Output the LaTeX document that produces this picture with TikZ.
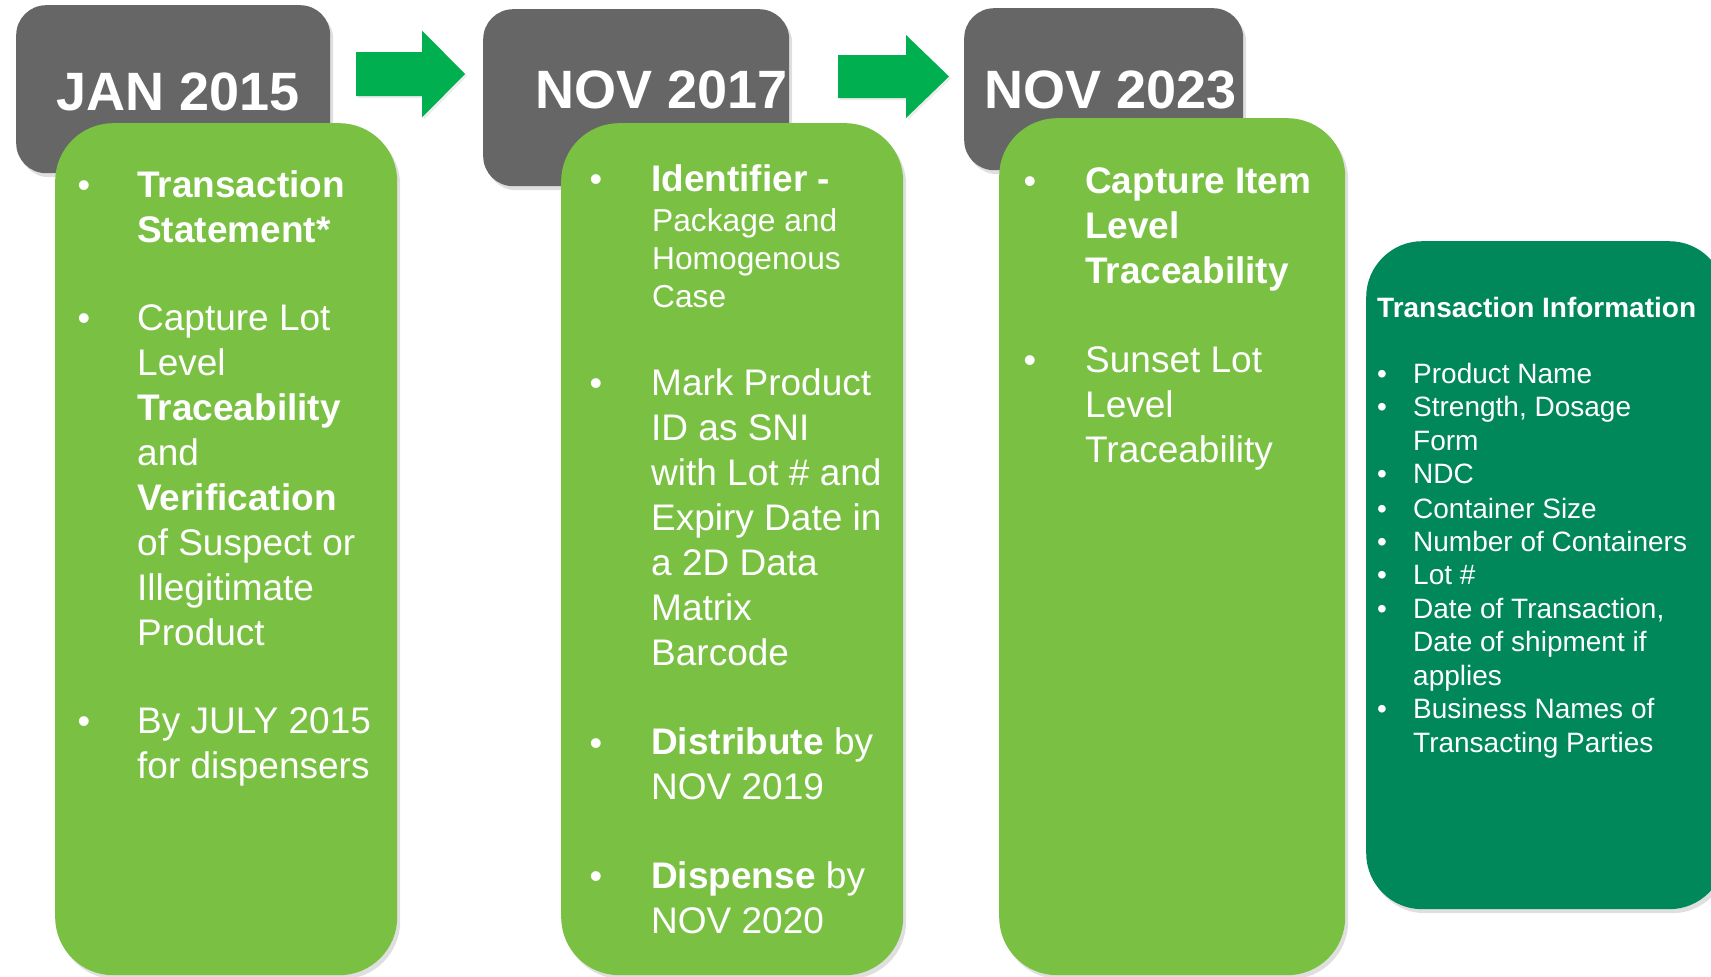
\documentclass[tikz,border=0pt]{standalone}
\usepackage{fontspec}
\setmainfont{Liberation Sans}
\usetikzlibrary{shadows}
\definecolor{dategray}{HTML}{666666}
\definecolor{stagegreen}{HTML}{7AC143}
\definecolor{arrowgreen}{HTML}{00B050}
\definecolor{infogreen}{HTML}{00885A}

\begin{document}
\begin{tikzpicture}[
	x=1pt, y=-1pt,
	datebox/.style={
		fill=dategray, rounded corners=30pt, anchor=north west, inner sep=0pt,
		drop shadow={opacity=0.25, shadow xshift=3pt, shadow yshift=-4pt}
	},
	stagebox/.style={
		fill=stagegreen, rounded corners=58pt, anchor=north west, inner sep=0pt,
		drop shadow={opacity=0.25, shadow xshift=3pt, shadow yshift=-4pt}
	},
	infobox/.style={
		fill=infogreen, rounded corners=56pt, anchor=north west, inner sep=0pt,
		drop shadow={opacity=0.25, shadow xshift=3pt, shadow yshift=-4pt}
	},
	blockarrow/.style={
		fill=arrowgreen,
		drop shadow={opacity=0.15, shadow xshift=2pt, shadow yshift=-2pt}
	},
	datetext/.style={anchor=base west, inner sep=0pt, text=white, font=\fontsize{54}{60}\selectfont\bfseries},
	% multi-line texts are placed by the baseline of their last line
	bodytext/.style={anchor=base west, inner sep=0pt, align=left, text=white, font=\fontsize{37}{45}\selectfont},
	subtext/.style={bodytext, font=\fontsize{31.7}{38}\selectfont},
	infotext/.style={bodytext, font=\fontsize{28}{33.5}\selectfont},
	bulletmark/.style={anchor=base, inner sep=0pt, text=white, font=\fontsize{36}{40}\selectfont},
	infobullet/.style={bulletmark, font=\fontsize{28}{33.5}\selectfont}
	]
	
	\path[use as bounding box, fill=white] (0,0) rectangle (1711,977);
	\clip (0,0) rectangle (1711,977);
	
	% ==========================================
	% DATE HEADERS
	% ==========================================
	
	\node[datebox, minimum width=314pt, minimum height=168pt] (jan15) at (16,5) {};
	\node[datebox, minimum width=306pt, minimum height=177pt] (nov17) at (483,9) {};
	\node[datebox, minimum width=279pt, minimum height=162pt] (nov23) at (964,8) {};
	
	\node[datetext] (jan15t) at (56,110) {JAN 2015};
	\node[datetext] (nov17t) at (535,108) {NOV 2017};
	\node[datetext] (nov23t) at (984,108) {NOV 2023};
	
	% Progress arrows between the dates
	\coordinate (arrA) at (356,52);
	\coordinate (arrB) at (838,55);
	\path[blockarrow] (arrA) -- ++(66,0) -- ++(0,-21.5) -- ++(43,43.5) -- ++(-43,43.5) -- ++(0,-21.5) -- ++(-66,0) -- cycle;
	\path[blockarrow] (arrB) -- ++(68,0) -- ++(0,-20) -- ++(43,41.5) -- ++(-43,41.5) -- ++(0,-20) -- ++(-68,0) -- cycle;
	
	% ==========================================
	% STAGE 1: JAN 2015
	% ==========================================
	
	\node[stagebox, minimum width=342pt, minimum height=852pt] (stage1) at (55,123) {};
	
	\node[bulletmark] (b11) at (84,197) {•};
	\node[bodytext] (s11) at (137,242) {\textbf{Transaction}\\\textbf{Statement*}};
	
	\node[bulletmark] (b12) at (84,330) {•};
	\node[bodytext] (s12) at (137,645) {Capture Lot\\Level\\\textbf{Traceability}\\and\\\textbf{Verification}\\of Suspect or\\Illegitimate\\Product};
	
	\node[bulletmark] (b13) at (84,733) {•};
	\node[bodytext] (s13) at (137,778) {By JULY 2015\\for dispensers};
	
	% ==========================================
	% STAGE 2: NOV 2017
	% ==========================================
	
	\node[stagebox, minimum width=342pt, minimum height=852pt] (stage2) at (561,123) {};
	
	\node[bulletmark] (b21) at (596,191) {•};
	\node[bodytext, font=\fontsize{37}{45}\selectfont\bfseries] (s21) at (651,191) {Identifier -};
	\node[subtext] (s21b) at (652,307) {Package and\\Homogenous\\Case};
	
	\node[bulletmark] (b22) at (596,395) {•};
	\node[bodytext] (s22) at (651,665) {Mark Product\\ID as SNI\\with Lot \# and\\Expiry Date in\\a 2D Data\\Matrix\\Barcode};
	
	\node[bulletmark] (b23) at (596,755) {•};
	\node[bodytext] (s23) at (651,799) {\textbf{Distribute} by\\NOV 2019};
	
	\node[bulletmark] (b24) at (596,888) {•};
	\node[bodytext] (s24) at (651,933) {\textbf{Dispense} by\\NOV 2020};
	
	% ==========================================
	% STAGE 3: NOV 2023
	% ==========================================
	
	\node[stagebox, minimum width=346pt, minimum height=857pt] (stage3) at (999,118) {};
	
	\node[bulletmark] (b31) at (1030,193) {•};
	\node[bodytext] (s31) at (1085,283) {\textbf{Capture Item}\\\textbf{Level}\\\textbf{Traceability}};
	
	\node[bulletmark] (b32) at (1030,372) {•};
	\node[bodytext] (s32) at (1085,462) {Sunset Lot\\Level\\Traceability};
	
	% ==========================================
	% TRANSACTION INFORMATION
	% ==========================================
	
	\node[infobox, minimum width=359pt, minimum height=668pt] (info) at (1366,241) {};
	\node[infotext, font=\fontsize{28}{33.5}\selectfont\bfseries] (infot) at (1377,317) {Transaction Information};
	
	\node[infobullet] (i1) at (1382,383) {•};
	\node[infotext] (it1) at (1413,383) {Product Name};
	\node[infobullet] (i2) at (1382,416) {•};
	\node[infotext] (it2) at (1413,450) {Strength, Dosage\\Form};
	\node[infobullet] (i3) at (1382,483) {•};
	\node[infotext] (it3) at (1413,483) {NDC};
	\node[infobullet] (i4) at (1382,518) {•};
	\node[infotext] (it4) at (1413,518) {Container Size};
	\node[infobullet] (i5) at (1382,551) {•};
	\node[infotext] (it5) at (1413,551) {Number of Containers};
	\node[infobullet] (i6) at (1382,584) {•};
	\node[infotext] (it6) at (1413,584) {Lot \#};
	\node[infobullet] (i7) at (1382,618) {•};
	\node[infotext] (it7) at (1413,685) {Date of Transaction,\\Date of shipment if\\applies};
	\node[infobullet] (i8) at (1382,718) {•};
	\node[infotext] (it8) at (1413,752) {Business Names of\\Transacting Parties};
\end{tikzpicture}
\end{document}
